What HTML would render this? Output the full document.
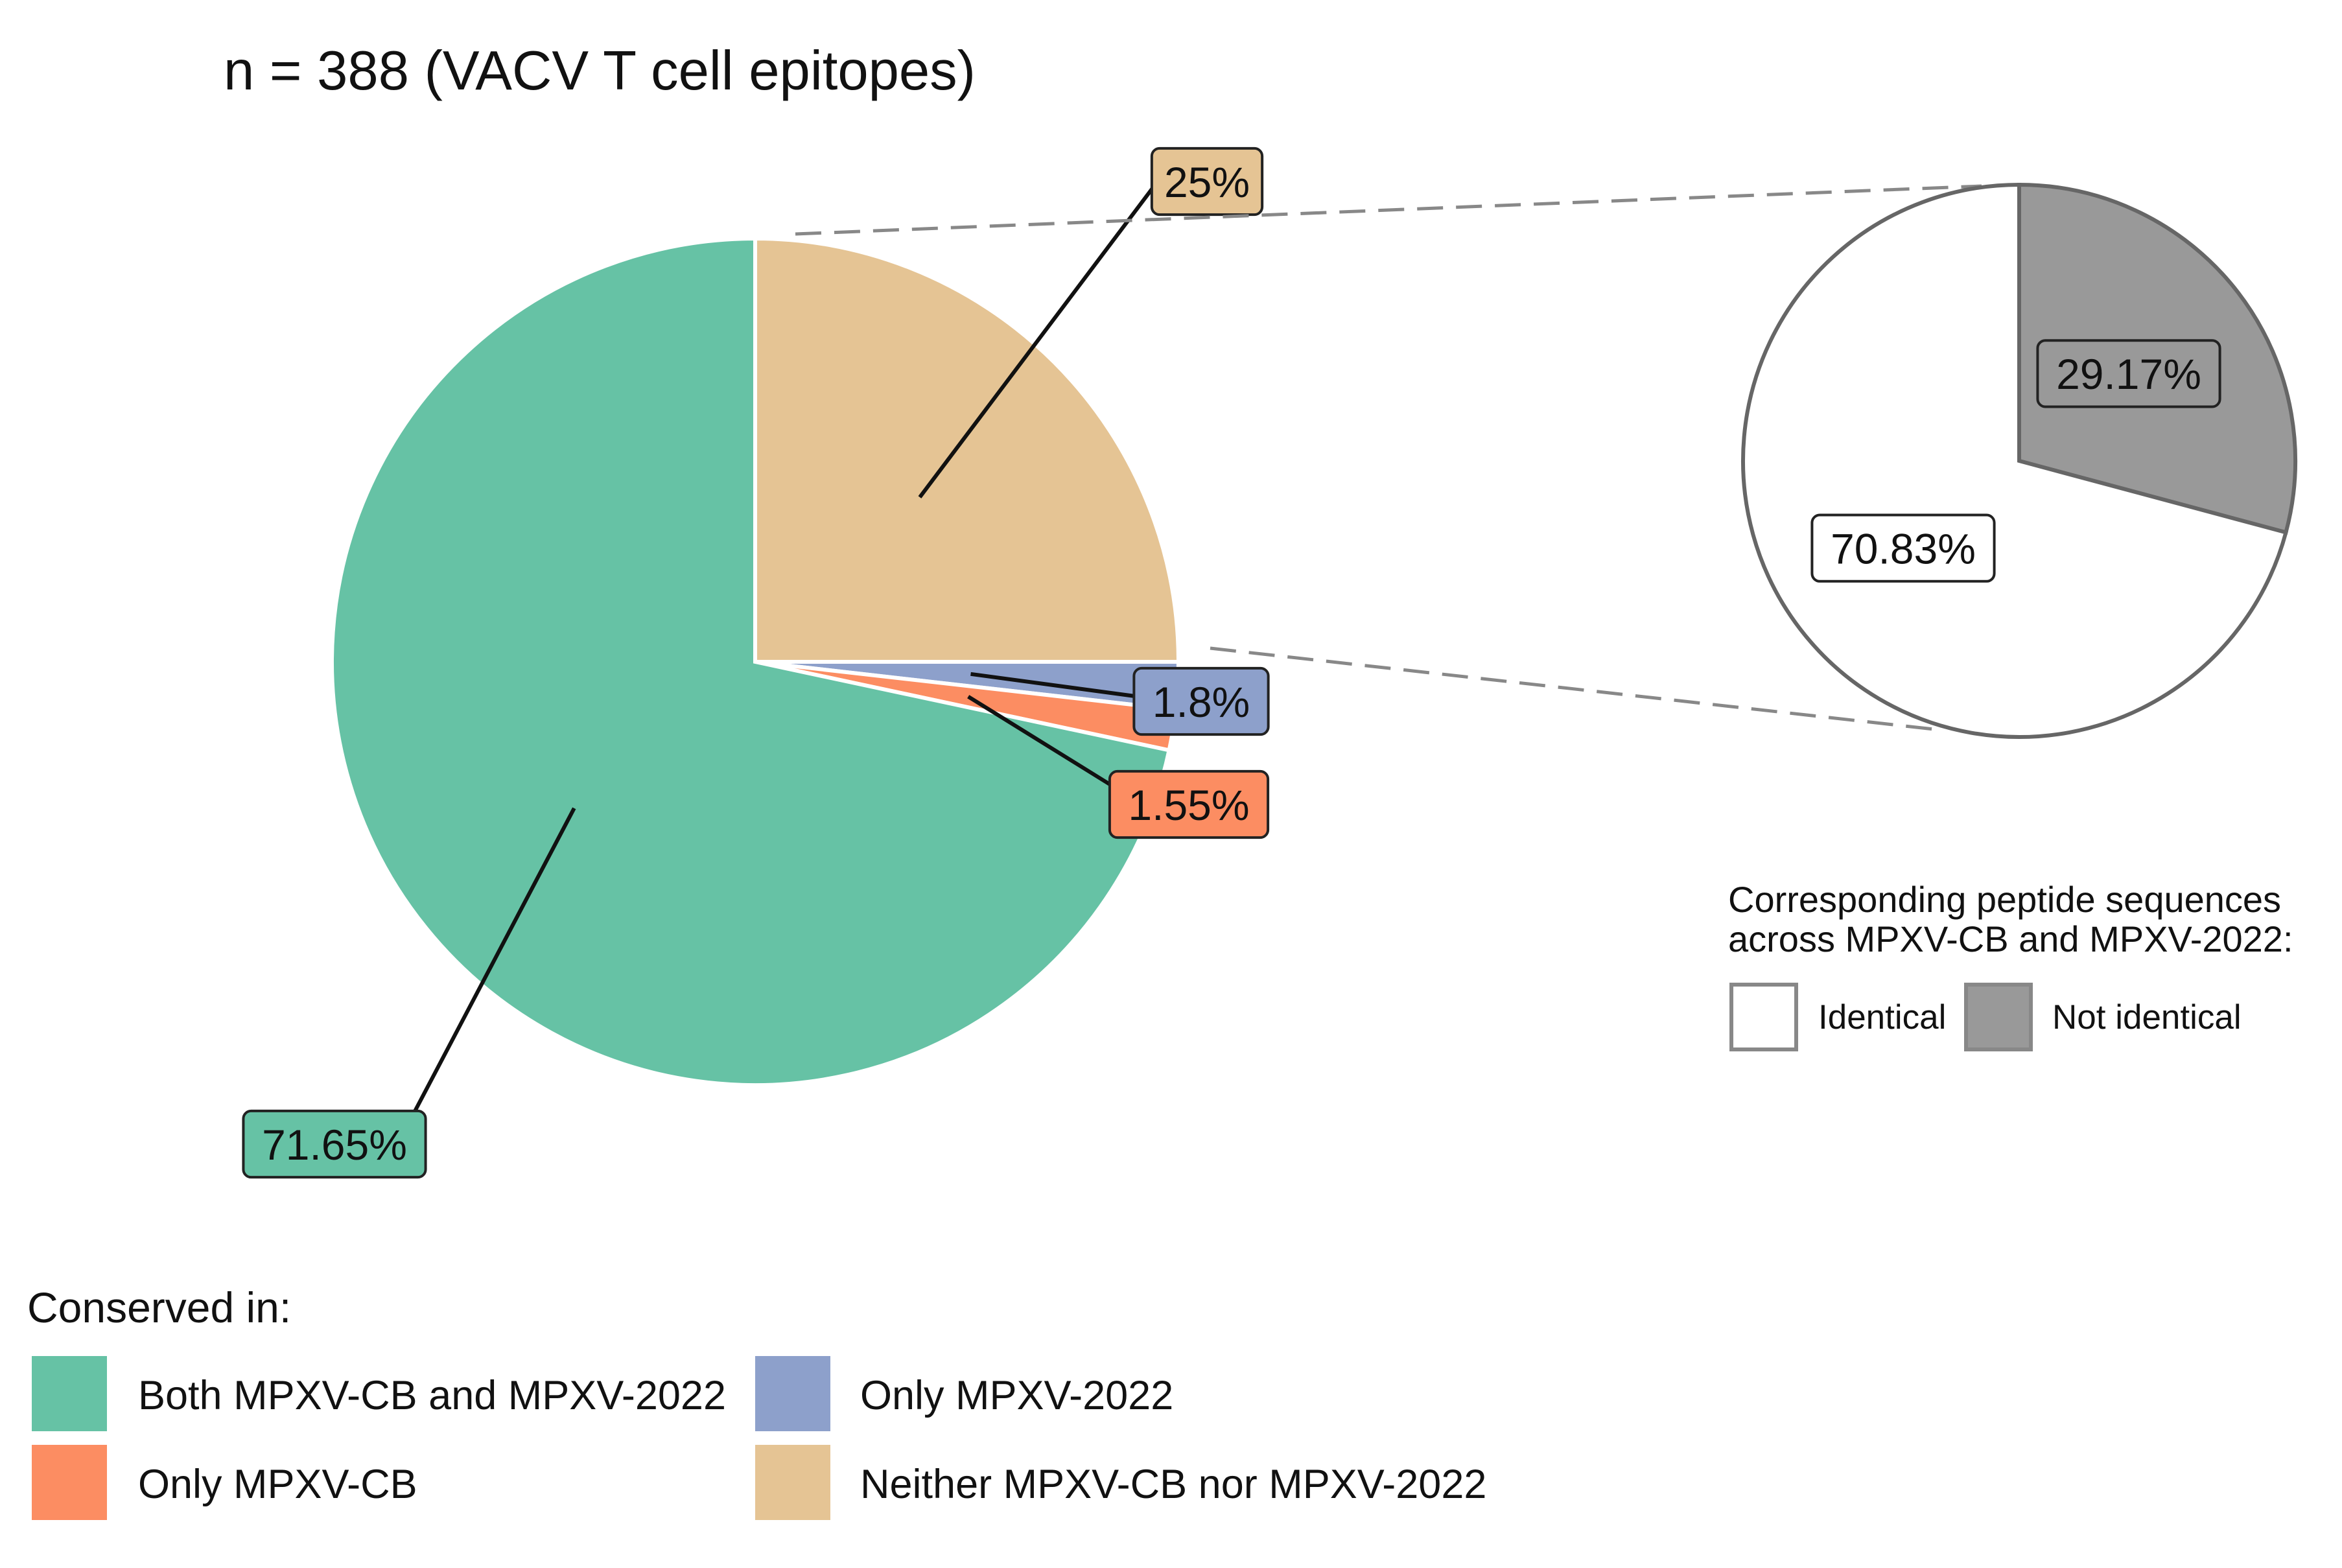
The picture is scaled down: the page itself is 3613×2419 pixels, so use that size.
<!DOCTYPE html>
<html><head><meta charset="utf-8"><style>
html,body{margin:0;padding:0;background:#fff;}
svg{display:block;font-family:"Liberation Sans",Arial,sans-serif;}
</style></head><body>
<svg id="chart" width="3613" height="2419" viewBox="0 0 3613 2419" xmlns="http://www.w3.org/2000/svg">
<text x="345" y="138" font-size="85" fill="#111">n = 388 (VACV T cell epitopes)</text>
<g id="main"></g>
<g id="zoom"></g>
<g>
<text x="2666" y="1407" font-size="56" fill="#111">Corresponding peptide sequences</text>
<text x="2666" y="1468" font-size="56" fill="#111">across MPXV-CB and MPXV-2022:</text>
<rect x="2671" y="1519" width="100" height="100" fill="#fff" stroke="#888" stroke-width="6"/>
<text x="2805" y="1587" font-size="53" fill="#111">Identical</text>
<rect x="3033" y="1519" width="100" height="100" fill="#999" stroke="#888" stroke-width="6"/>
<text x="3166" y="1587" font-size="53" fill="#111">Not identical</text>
</g>
<g>
<text x="42" y="2040" font-size="66" fill="#111">Conserved in:</text>
<rect x="49" y="2092" width="116" height="116" fill="#66c2a5"/>
<text x="213" y="2174" font-size="63" fill="#111">Both MPXV-CB and MPXV-2022</text>
<rect x="49" y="2229" width="116" height="116" fill="#fc8d62"/>
<text x="213" y="2311" font-size="63" fill="#111">Only MPXV-CB</text>
<rect x="1165" y="2092" width="116" height="116" fill="#8da0cb"/>
<text x="1327" y="2174" font-size="63" fill="#111">Only MPXV-2022</text>
<rect x="1165" y="2229" width="116" height="116" fill="#e5c494"/>
<text x="1327" y="2311" font-size="63" fill="#111">Neither MPXV-CB nor MPXV-2022</text>
</g>
</svg>
<script>
const categories = ["Neither MPXV-CB nor MPXV-2022","Only MPXV-2022","Only MPXV-CB","Both MPXV-CB and MPXV-2022"];
const values = [25, 1.8, 1.55, 71.65];
const labels = ["25%","1.8%","1.55%","71.65%"];
const colors = ["#e5c494","#8da0cb","#fc8d62","#66c2a5"];
const zoomCategories = ["Not identical","Identical"];
const zoomValues = [29.17, 70.83];
const zoomLabels = ["29.17%","70.83%"];

const NS="http://www.w3.org/2000/svg";
function mk(tag,attrs,parent){const e=document.createElementNS(NS,tag);for(const k in attrs)e.setAttribute(k,attrs[k]);parent.appendChild(e);return e;}
function pt(cx,cy,r,a){return [cx+r*Math.sin(a),cy-r*Math.cos(a)];}
function arc(cx,cy,r,a0,a1){const p0=pt(cx,cy,r,a0),p1=pt(cx,cy,r,a1);const large=(a1-a0)>Math.PI?1:0;
 return `M${cx},${cy} L${p0[0]},${p0[1]} A${r},${r} 0 ${large} 1 ${p1[0]},${p1[1]} Z`;}
function label(g,cx,cy,text,fill,fs,name){
 const t=mk('text',{x:cx,y:cy+fs*0.36,'font-size':fs,'text-anchor':'middle',fill:'#111'},g);t.textContent=text;
 const w=text.length*fs*0.56+fs*0.9,h=fs*1.55;
 const r=mk('rect',{x:cx-w/2,y:cy-h/2,width:w,height:h,rx:12,fill:fill,stroke:'#222','stroke-width':4},g);
 
 
 g.insertBefore(r,t);
}
const g=document.getElementById('main');
const cx=1165,cy=1021,R=653;
const total=values.reduce((a,b)=>a+b,0);
let a=0;const mids=[];
values.forEach((v,i)=>{const a1=a+v/total*2*Math.PI;
 const p=mk('path',{d:arc(cx,cy,R,a,a1),fill:colors[i],stroke:'#fff','stroke-width':6},g);
 
 
 mids.push((a+a1)/2);a=a1;});
const labelPos=[[1862,280],[1853,1082],[1834,1241],[516,1765]];
const leaderR=[0.55,0.51,0.51,0.55];
values.forEach((v,i)=>{
 const s=pt(cx,cy,R*leaderR[i],mids[i]);
 const l=mk('line',{x1:s[0],y1:s[1],x2:labelPos[i][0]-(i==3?-100:80),y2:labelPos[i][1]+(i==0?5:-5),stroke:'#111','stroke-width':6},g);
 
 
});
values.forEach((v,i)=>label(g,labelPos[i][0],labelPos[i][1],labels[i],colors[i],66,'slice-label-'+i));
const zg=document.getElementById('zoom');
const d1=mk('line',{x1:1227,y1:361,x2:3057,y2:287,stroke:'#888','stroke-width':5,'stroke-dasharray':'40,20'},zg);


const d2=mk('line',{x1:1867,y1:1000,x2:2992,y2:1126,stroke:'#888','stroke-width':5,'stroke-dasharray':'40,20'},zg);


const zx=3115,zy=711,zr=426;const zt=zoomValues.reduce((a,b)=>a+b,0);
let b=0;const zcol=['#999','#fff'];const zm=[];
zoomValues.forEach((v,i)=>{const b1=b+v/zt*2*Math.PI;
 const p=mk('path',{d:arc(zx,zy,zr,b,b1),fill:zcol[i],stroke:'#666','stroke-width':6},zg);
 
 
 zm.push((b+b1)/2);b=b1;});
zoomValues.forEach((v,i)=>{const p=pt(zx,zy,zr*0.5,zm[i]);const q=i==0?[p[0],p[1]-5]:[p[0]-10,p[1]+5];
 label(zg,q[0],q[1],zoomLabels[i],zcol[i],66,'zoom-label-'+i);});
</script>
</body></html>
